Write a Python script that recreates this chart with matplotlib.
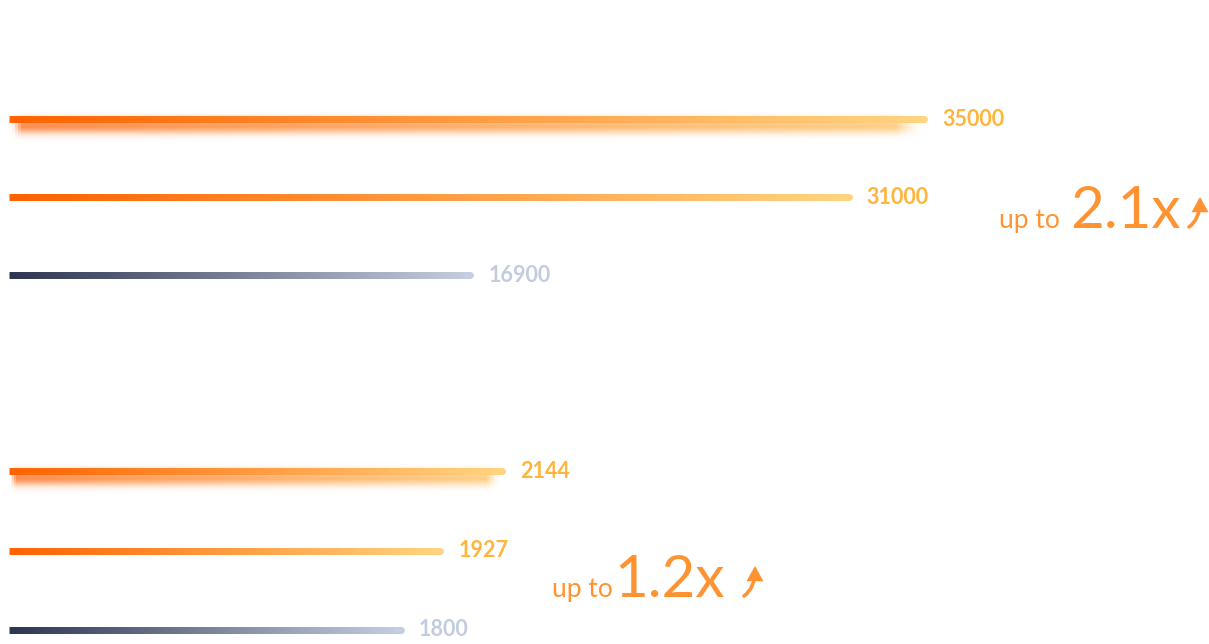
import numpy as np
import matplotlib
matplotlib.use("Agg")
import matplotlib.pyplot as plt
from matplotlib.collections import LineCollection
from matplotlib.colors import LinearSegmentedColormap
from matplotlib.patches import FancyArrowPatch
import matplotlib.transforms as mtransforms

# ---------------------------------------------------------
# Data
# ---------------------------------------------------------

top_values = [35000, 31000, 16900]
top_labels = ["35000", "31000", "16900"]
top_kinds = ["glow", "orange", "grey"]
top_gain = "2.1x"

bottom_values = [2144, 1927, 1800]
bottom_labels = ["2144", "1927", "1800"]
bottom_kinds = ["glow", "orange", "grey"]
bottom_gain = "1.2x"

# ---------------------------------------------------------
# Style
# ---------------------------------------------------------

plt.rcParams['font.family'] = ['Lato', 'DejaVu Sans']

orange_cmap = LinearSegmentedColormap.from_list("orange", ["#FF6200", "#FFD37F"])
grey_cmap = LinearSegmentedColormap.from_list("grey", ["#2D3550", "#C5CEE0"])
glow_cmap = LinearSegmentedColormap.from_list("glow", ["#FF6E1E", "#FFC46A"])
orange_text = "#FFB43C"
grey_text = "#C3CCDF"
gain_color = "#FF9331"

W, H = 1209, 644
fig = plt.figure(figsize=(W / 100, H / 100), dpi=100)
fig.patch.set_facecolor("white")


def px_axes(top_px, step_px):
    # axes whose rows 0,1,2 sit at the given pixel rows
    y_top = top_px - step_px / 2
    height = 3 * step_px
    return fig.add_axes([9 / W, (H - y_top - height) / H, 1200 / W, height / H])


def gradient_line(ax, y, x0, x1, colors, lw, trans):
    # overlapping butt segments, so no seams show between them
    n = len(colors)
    xs = np.geomspace(x0, x1, n + 1)
    segs = [[(xs[i], y), (xs[min(i + 2, n)], y)] for i in range(n)]
    lc = LineCollection(segs, colors=colors, linewidths=lw,
                        capstyle="butt", transform=trans)
    ax.add_collection(lc)
    return xs


def draw_glow(ax, y, value):
    # soft shadow: stacked opaque layers, pre-blended with white
    shadow = mtransforms.offset_copy(ax.transData, fig=fig, y=-5, units="points")
    x0 = ax.get_xlim()[0]
    n = 300
    t = np.linspace(0, 1, n)
    base = glow_cmap(t)[:, :3]
    taper = np.clip((1 - t) / 0.03, 0, 1) * np.clip(t / 0.012, 0, 1)
    taper = taper ** 1.5
    for w_px in np.arange(32, 1, -2):
        a = 0.8 * np.exp(-(w_px / 2) ** 2 / (2 * 5.5 ** 2))
        cols = 1 - (a * taper)[:, None] * (1 - base)
        gradient_line(ax, y, x0, value, cols, w_px * 0.72, shadow)


def draw_group(ax, values, labels, kinds):
    x0 = ax.get_xlim()[0]
    for i, (v, lab, kind) in enumerate(zip(values, labels, kinds)):
        cmap = grey_cmap if kind == "grey" else orange_cmap
        if kind == "glow":
            draw_glow(ax, i, v)
        colors = cmap(np.linspace(0, 1, 200))
        xs = gradient_line(ax, i, x0, v, colors, 5.0, ax.transData)
        ax.plot([xs[-3], xs[-1]], [i, i], color=colors[-1], lw=5.0,
                solid_capstyle="round")
        ax.annotate(lab, xy=(v, i), xytext=(13, 0), textcoords="offset points",
                    va="center", ha="left", fontsize=15.5, fontweight="bold",
                    color=grey_text if kind == "grey" else orange_text)
    ax.set_ylim(2.5, -0.5)
    ax.axis("off")


# ---------------------------------------------------------
# Top group (bar lengths in the source follow a log-like scale)
# ---------------------------------------------------------

ax1 = px_axes(119, 78)
ax1.set_xscale("log")
ax1.set_xlim(8066, 55260)
draw_group(ax1, top_values, top_labels, top_kinds)

# ---------------------------------------------------------
# Bottom group
# ---------------------------------------------------------

ax2 = px_axes(471, 79.5)
ax2.set_xscale("log")
ax2.set_xlim(913, 7298)
draw_group(ax2, bottom_values, bottom_labels, bottom_kinds)

# ---------------------------------------------------------
# "up to" callouts
# ---------------------------------------------------------


def gain_callout(x_px, base_px, gain, gap_px, arrow_px):
    fy = (H - base_px) / H
    fig.text(x_px / W, fy, "up to", fontsize=19, color=gain_color,
             va="baseline", ha="left")
    fig.text((x_px + gap_px) / W, fy, gain, fontsize=42, color=gain_color,
             va="baseline", ha="left")
    arr = FancyArrowPatch((arrow_px / W, (H - base_px + 1) / H),
                          ((arrow_px + 11) / W, (H - base_px + 31) / H),
                          transform=fig.transFigure,
                          connectionstyle="angle3,angleA=35,angleB=90",
                          arrowstyle="-|>,head_length=0.5,head_width=0.28",
                          mutation_scale=14, lw=2.6, color=gain_color,
                          shrinkA=0, shrinkB=0, joinstyle="miter")
    fig.add_artist(arr)


gain_callout(999, 228, top_gain, 71, 1189)
gain_callout(552, 597, bottom_gain, 62, 744)

fig.savefig("out.png", dpi=100, facecolor="white")
